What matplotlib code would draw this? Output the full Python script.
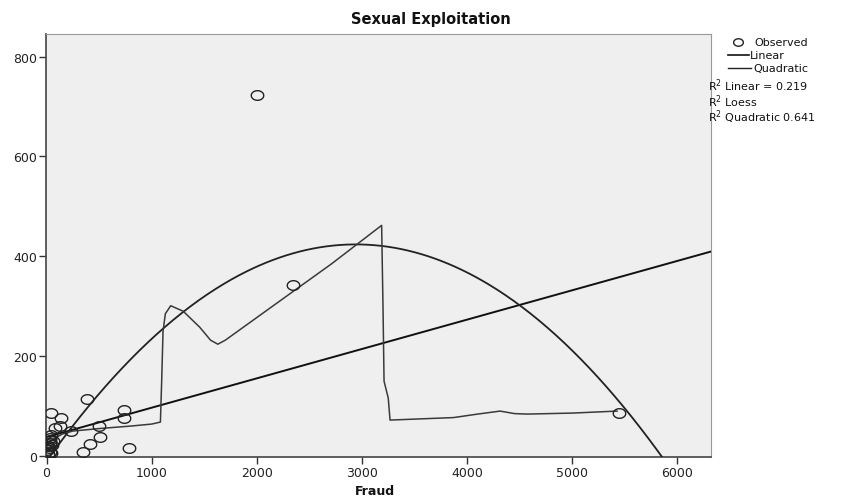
import numpy as np
import matplotlib
matplotlib.use("Agg")
import matplotlib.pyplot as plt
from matplotlib.path import Path
from matplotlib.lines import Line2D

plt.rcParams['font.family'] = ['DejaVu Sans']

# observed cases
fraud = [2000, 2343, 5441, 387, 45, 133, 733, 733, 498, 505, 416, 346, 784,
         235, 124, 76, 45, 29, 29, 22, 29, 45, 12, 60, 18, 8, 35, 52, 15]
sexual_exp = [724, 343, 86, 114, 87, 76, 92, 77, 61, 38, 25, 8, 16,
              50, 60, 56, 43, 36, 26, 16, 9, 7, 3, 30, 20, 12, 33, 22, 5]

# fitted models
lin_b0, lin_b1 = 38.0, 0.0588
quad_b0, quad_b1, quad_b2 = -10.3, 0.2952, -5.018e-5

# loess curve
loess_x = [0, 50, 150, 250, 500, 800, 1000, 1083, 1095, 1108, 1130, 1181, 1300,
           1457, 1560, 1629, 1700, 2711, 3187, 3200, 3210, 3250, 3267, 3870,
           4100, 4314, 4450, 4568, 5000, 5426]
loess_y = [20, 32, 44, 50, 55, 60, 64, 68, 150, 250, 285, 301, 290,
           258, 232, 224, 232, 385, 462, 300, 150, 116, 72, 77,
           84, 90, 85, 84, 86, 90]

xticks = [0, 1000, 2000, 3000, 4000, 5000, 6000]
yticks = [0, 200, 400, 600, 800]

# slightly flattened circle marker
t = np.linspace(0, 2 * np.pi, 40)
oval = Path(np.column_stack([1.3 * np.cos(t), np.sin(t)]))

fig = plt.figure(figsize=(8.49, 5.02), dpi=100)
ax = fig.add_axes([0.0542, 0.0876, 0.7833, 0.8424])
ax.set_facecolor('#efefef')

xs = np.linspace(0, 6400, 400)
ax.plot(xs, lin_b0 + lin_b1 * xs, color='#111111', lw=1.4, zorder=3)
ax.plot(xs, quad_b0 + quad_b1 * xs + quad_b2 * xs ** 2, color='#222222', lw=1.3, zorder=3)
ax.plot(loess_x, loess_y, color='#3a3a3a', lw=1.1, zorder=3)
ax.plot(fraud, sexual_exp, linestyle='none', marker=oval, markersize=9,
        markerfacecolor='none', markeredgecolor='#222222', markeredgewidth=1.0, zorder=4)

ax.set_xlim(-5, 6320)
ax.set_ylim(-2, 845)
ax.set_xticks(xticks)
ax.set_yticks(yticks)
ax.tick_params(direction='out', length=5, width=1, color='#333333', labelsize=9,
               labelcolor='#222222', pad=1.5)
for s in ['top', 'right']:
    ax.spines[s].set_color('#999999')
for s in ['left', 'bottom']:
    ax.spines[s].set_color('#444444')
    ax.spines[s].set_linewidth(1.2)

fig.text(0.508, 0.962, 'Sexual Exploitation', ha='center', va='center',
         fontsize=10.5, fontweight='bold', color='#111111')
fig.text(0.442, 0.020, 'Fraud', ha='center', va='center',
         fontsize=9, fontweight='bold', color='#111111')

# legend
fs = 8
fig.lines.append(Line2D([0.869], [0.914], marker=oval, markersize=7, markerfacecolor='none',
                        markeredgecolor='#222222', markeredgewidth=1.0, transform=fig.transFigure))
fig.text(0.889, 0.914, 'Observed', va='center', fontsize=fs, color='#111111')
fig.lines.append(Line2D([0.857, 0.882], [0.888, 0.888], color='#111111', lw=1.2,
                        transform=fig.transFigure))
fig.text(0.883, 0.888, 'Linear', va='center', fontsize=fs, color='#111111')
fig.lines.append(Line2D([0.857, 0.885], [0.862, 0.862], color='#222222', lw=1.0,
                        transform=fig.transFigure))
fig.text(0.887, 0.862, 'Quadratic', va='center', fontsize=fs, color='#111111')
fig.text(0.834, 0.830, 'R$^2$ Linear = 0.219', va='center', fontsize=fs, color='#111111')
fig.text(0.834, 0.798, 'R$^2$ Loess', va='center', fontsize=fs, color='#111111')
fig.text(0.834, 0.766, 'R$^2$ Quadratic 0.641', va='center', fontsize=fs, color='#111111')

fig.savefig('out.png', dpi=100)
